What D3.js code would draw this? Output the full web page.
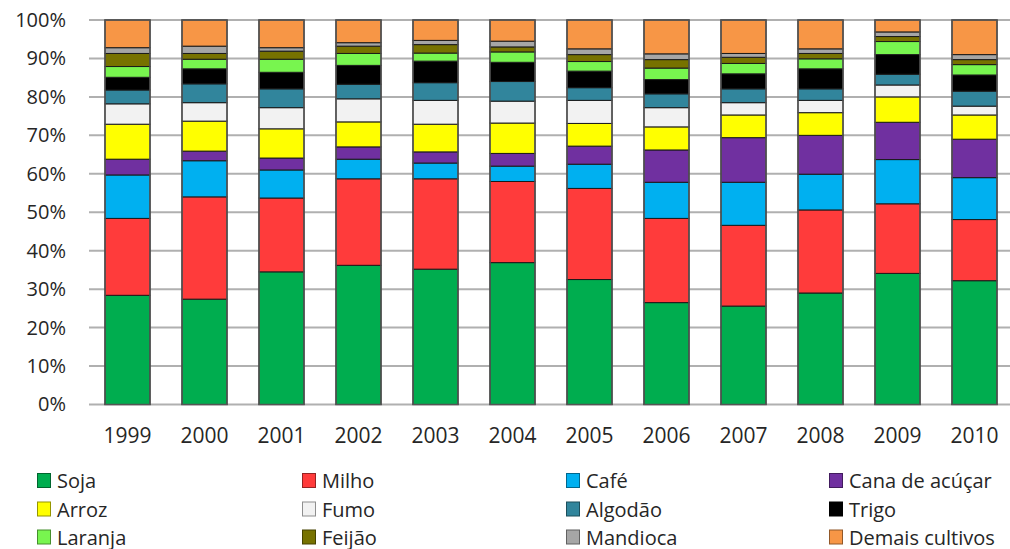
<!DOCTYPE html>
<html>
<head>
<meta charset="utf-8">
<script src="https://cdn.jsdelivr.net/npm/d3@7"></script>
<style>
  body { margin: 0; background: #fff; }
  svg text { font-family: 'Open Sans', sans-serif; fill: #262626; }
</style>
</head>
<body>
<div id="chart"></div>
<script>
const years = ['1999','2000','2001','2002','2003','2004','2005','2006','2007','2008','2009','2010'];
const seriesNames = ['Soja','Milho','Café','Cana de acúçar','Arroz','Fumo','Algodão','Trigo','Laranja','Feijão','Mandioca','Demais cultivos'];
const seriesColors = ['#00ad4f','#ff3b3b','#00b0f0','#7030a0','#ffff00','#f2f2f2','#31859c','#000000','#78f54f','#777200','#a6a6a6','#f79646'];

// shares in %
const soja      = [28.4, 27.4, 34.5, 36.2, 35.2, 36.9, 32.5, 26.5, 25.6, 29.0, 34.1, 32.2];
const milho     = [20.0, 26.6, 19.2, 22.5, 23.5, 21.1, 23.7, 21.9, 21.0, 21.6, 18.1, 15.9];
const cafe      = [11.3,  9.4,  7.3,  5.1,  4.1,  4.0,  6.3,  9.4, 11.2,  9.3, 11.5, 10.9];
const cana      = [ 4.1,  2.5,  3.1,  3.2,  2.9,  3.3,  4.7,  8.4, 11.6, 10.1,  9.7, 10.0];
const arroz     = [ 9.1,  7.8,  7.6,  6.5,  7.2,  7.9,  5.9,  6.0,  5.9,  5.9,  6.6,  6.3];
const fumo      = [ 5.3,  4.8,  5.5,  6.0,  6.2,  5.7,  6.0,  5.0,  3.2,  3.2,  3.1,  2.3];
const algodao   = [ 3.6,  4.9,  4.9,  3.8,  4.6,  5.1,  3.3,  3.6,  3.6,  3.0,  2.8,  3.9];
const trigo     = [ 3.3,  3.9,  4.3,  4.9,  5.6,  5.0,  4.3,  3.7,  3.9,  5.2,  5.1,  4.2];
const laranja   = [ 2.8,  2.5,  3.4,  3.1,  2.1,  2.7,  2.5,  3.0,  2.7,  2.6,  3.4,  2.7];
const feijao    = [ 3.4,  1.5,  2.1,  1.9,  2.2,  1.3,  1.8,  2.2,  1.6,  1.4,  1.3,  1.3];
const mandioca  = [ 1.5,  1.9,  0.9,  0.9,  1.1,  1.5,  1.5,  1.5,  1.0,  1.2,  1.2,  1.3];
const demais    = [ 7.2,  6.8,  7.2,  5.9,  5.3,  5.5,  7.5,  8.8,  8.7,  7.5,  3.1,  9.0];

const yTicks = [0, 0.1, 0.2, 0.3, 0.4, 0.5, 0.6, 0.7, 0.8, 0.9, 1];

const seriesValues = [soja, milho, cafe, cana, arroz, fumo, algodao, trigo, laranja, feijao, mandioca, demais];

const table = years.map((yr, i) => {
    const row = { year: yr };
    seriesNames.forEach((name, s) => { row[name] = seriesValues[s][i]; });
    return row;
});

const width = 1010, height = 549;
const margin = { top: 20, right: -3, bottom: 144.5, left: 89 };

const svg = d3.select('#chart').append('svg')
    .attr('width', width)
    .attr('height', height);

const x = d3.scaleBand()
    .domain(years)
    .range([margin.left, width - margin.right])
    .paddingInner(0.415)
    .paddingOuter(0.2075);

const y = d3.scaleLinear()
    .domain([0, 1])
    .range([height - margin.bottom, margin.top]);

// gridlines
svg.append('g')
    .selectAll('line')
    .data(yTicks)
    .enter()
    .append('line')
    .attr('x1', margin.left)
    .attr('x2', width)
    .attr('y1', d => y(d))
    .attr('y2', d => y(d))
    .style('stroke', '#b0b0b0')
    .style('stroke-width', '2px');

// y axis labels
svg.append('g')
    .attr('transform', `translate(${margin.left},0)`)
    .call(d3.axisLeft(y).tickValues(yTicks).tickFormat(d3.format('.0%')).tickSize(0).tickPadding(23))
    .call(g => g.select('.domain').remove())
    .selectAll('text')
    .style('font-size', '20px')
    .style('font-family', "'Open Sans', sans-serif")
    .style('fill', '#262626');

// x axis labels
svg.append('g')
    .attr('transform', `translate(0,${y(0)})`)
    .call(d3.axisBottom(x).tickSize(0).tickPadding(24))
    .call(g => g.select('.domain').remove())
    .selectAll('text')
    .style('font-size', '21px')
    .style('font-family', "'Open Sans', sans-serif")
    .style('fill', '#262626');

const stack = d3.stack()
    .keys(seriesNames)
    .offset(d3.stackOffsetExpand);

const layers = stack(table);

svg.append('g')
    .selectAll('g')
    .data(layers)
    .enter()
    .append('g')
    .style('fill', (d, i) => seriesColors[i])
    .selectAll('rect')
    .data(d => d)
    .enter()
    .append('rect')
    .attr('x', d => x(d.data.year))
    .attr('y', d => y(d[1]))
    .attr('width', x.bandwidth())
    .attr('height', d => y(d[0]) - y(d[1]))
    .style('stroke', '#1a1a1a')
    .style('stroke-width', '1px');

// outer outline of each bar
svg.append('g')
    .selectAll('rect')
    .data(years)
    .enter()
    .append('rect')
    .attr('x', d => x(d))
    .attr('y', y(1))
    .attr('width', x.bandwidth())
    .attr('height', y(0) - y(1))
    .style('fill', 'none')
    .style('stroke', '#555')
    .style('stroke-width', '1.5px');

// legend: 4 columns, 3 rows
const legendCols = [37, 302, 566, 829];
const legendRows = [481, 509.5, 537.5];

const legend = svg.append('g')
    .selectAll('g')
    .data(seriesNames)
    .enter()
    .append('g')
    .attr('transform', (d, i) => `translate(${legendCols[i % 4]},${legendRows[Math.floor(i / 4)]})`);

legend.append('rect')
    .attr('x', 0.5)
    .attr('y', -7.5)
    .attr('width', 13)
    .attr('height', 14)
    .style('fill', (d, i) => seriesColors[i])
    .style('stroke', (d, i) => d3.color(seriesColors[i]).darker(1.5))
    .style('stroke-width', '1px');

legend.append('text')
    .attr('x', 20)
    .attr('y', 0)
    .attr('dy', '0.35em')
    .style('font-size', '20px')
    .text(d => d);
</script>
</body>
</html>
